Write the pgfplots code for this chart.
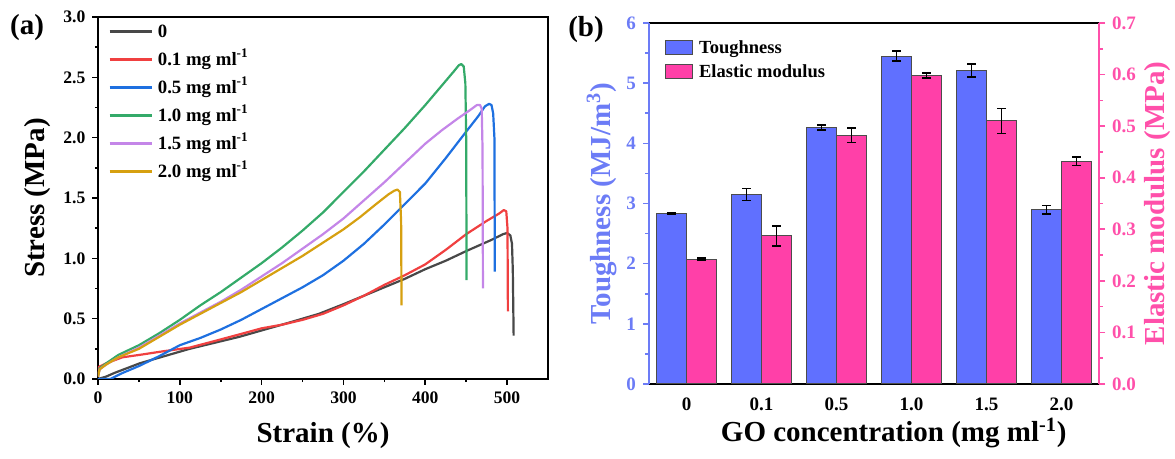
\documentclass[border=0pt]{standalone}
\usepackage{fontspec}
\setmainfont{Liberation Serif}
\usepackage{pgfplots}
\pgfplotsset{compat=1.18}

\definecolor{cZero}{RGB}{72,72,72}
\definecolor{cOne}{RGB}{240,64,64}
\definecolor{cFive}{RGB}{30,112,224}
\definecolor{cTen}{RGB}{52,170,105}
\definecolor{cFifteen}{RGB}{196,134,232}
\definecolor{cTwenty}{RGB}{214,160,16}
\definecolor{barBlue}{RGB}{96,112,255}
\definecolor{barPink}{RGB}{255,64,168}
\definecolor{axBlue}{RGB}{108,124,246}
\definecolor{axPink}{RGB}{255,80,170}

\newcommand{\labfont}{\fontsize{14.5}{16}\selectfont\bfseries}

\begin{document}
\begin{tikzpicture}
\path[use as bounding box] (0,0) rectangle (587.5pt,-229.5pt);
\node[font=\labfont] at (13.5pt,-14pt) {(a)};
\node[font=\labfont] at (293pt,-15pt) {(b)};

% (a) stress-strain
\begin{axis}[at={(49pt,-189.5pt)}, anchor=south west, scale only axis,
    width=225pt, height=181pt,
    xmin=0, xmax=550, ymin=0, ymax=3,
    xtick={0,100,...,500}, minor x tick num=1,
    ytick={0,0.5,...,3}, minor y tick num=1,
    xtick pos=bottom, ytick pos=left, tick align=outside,
    major tick length=2.8pt, minor tick length=1.6pt,
    axis line style={line width=0.9pt}, every tick/.style={black, line width=0.8pt},
    /pgf/number format/assume math mode=true,
    tick label style={font=\fontsize{8.8}{10}\selectfont\bfseries},
    yticklabel style={/pgf/number format/.cd, fixed, fixed zerofill, precision=1},
    xlabel={Strain (\%)}, ylabel={Stress (MPa)},
    label style={font=\labfont},
    xlabel style={at={(axis description cs:0.5,-0.155)}, anchor=center},
    ylabel style={at={(axis description cs:-0.134,0.5)}, anchor=center},
    legend style={at={(axis description cs:0.022,0.995)}, anchor=north west,
        draw=none, fill=none, font=\fontsize{9.4}{10}\selectfont\bfseries,
        row sep=2pt, inner sep=0pt,
        nodes={inner sep=0.5pt, text height=8.6pt, text depth=2.4pt},
        /tikz/every odd column/.append style={column sep=2pt}},
    legend cell align=left,
    legend image code/.code={\draw[#1, line width=1.3pt] (0pt,0pt) -- (21pt,0pt);},
    every axis plot/.append style={line width=1.1pt, line join=round}
]
\addplot[cZero] coordinates {(0,0) (10,0.02) (20,0.05) (51,0.13) (112,0.25) (173,0.35) (235,0.47) (270,0.54) (300,0.62) (325,0.69) (350,0.76) (375,0.83) (400,0.91) (425,0.98) (450,1.06) (480,1.15) (495,1.20) (500,1.21) (504,1.19) (506,1.12) (507,0.9) (508,0.36)};
\addlegendentry{0}
\addplot[cOne] coordinates {(0,0.02) (1,0.10) (10,0.13) (30,0.18) (51,0.20) (80,0.23) (112,0.26) (140,0.31) (173,0.37) (200,0.42) (225,0.45) (250,0.49) (275,0.54) (300,0.61) (325,0.69) (350,0.78) (375,0.86) (400,0.95) (425,1.07) (450,1.20) (475,1.31) (490,1.37) (496,1.40) (499,1.39) (500.5,1.25) (501,0.56)};
\addlegendentry{0.1 mg ml\textsuperscript{-1}}
\addplot[cFive] coordinates {(0,0) (15,0) (30,0.05) (51,0.11) (75,0.19) (100,0.28) (125,0.34) (150,0.41) (175,0.49) (200,0.58) (225,0.67) (250,0.76) (275,0.86) (300,0.98) (325,1.12) (350,1.28) (375,1.45) (400,1.62) (425,1.83) (450,2.05) (465,2.18) (473,2.26) (478,2.28) (481,2.27) (483,2.2) (484.5,2.0) (485,0.89)};
\addlegendentry{0.5 mg ml\textsuperscript{-1}}
\addplot[cTen] coordinates {(0,0.02) (2,0.09) (10,0.13) (25,0.20) (50,0.28) (75,0.38) (100,0.49) (125,0.61) (150,0.72) (175,0.84) (200,0.96) (225,1.09) (250,1.23) (275,1.38) (300,1.55) (325,1.72) (350,1.90) (375,2.08) (400,2.27) (420,2.43) (435,2.55) (441,2.60) (444,2.61) (447,2.59) (449,2.45) (450,2.0) (450.5,0.82)};
\addlegendentry{1.0 mg ml\textsuperscript{-1}}
\addplot[cFifteen] coordinates {(0,0.02) (2,0.08) (10,0.12) (25,0.18) (50,0.26) (75,0.36) (100,0.46) (125,0.55) (150,0.64) (175,0.74) (200,0.85) (225,0.96) (250,1.08) (275,1.20) (300,1.33) (325,1.48) (350,1.63) (375,1.79) (400,1.95) (420,2.06) (440,2.16) (455,2.23) (463,2.27) (467,2.27) (469,2.24) (470,1.9) (470.5,0.75)};
\addlegendentry{1.5 mg ml\textsuperscript{-1}}
\addplot[cTwenty] coordinates {(0,0.02) (2,0.08) (10,0.12) (25,0.18) (50,0.25) (75,0.35) (100,0.45) (125,0.54) (150,0.63) (175,0.72) (200,0.82) (225,0.92) (250,1.02) (275,1.13) (300,1.24) (320,1.34) (340,1.45) (355,1.53) (362,1.56) (366,1.57) (369,1.55) (370.5,1.3) (371,0.61)};
\addlegendentry{2.0 mg ml\textsuperscript{-1}}
\end{axis}

% (b) toughness, left axis
\begin{axis}[at={(324.5pt,-192pt)}, anchor=south west, scale only axis,
    width=225pt, height=180.5pt,
    xmin=-0.5, xmax=5.5, ymin=0, ymax=6,
    axis x line=box, axis y line*=left,
    xtick={0,...,5}, xticklabels={0,0.1,0.5,1.0,1.5,2.0},
    x tick style={draw=none},
    ytick={0,...,6}, minor y tick num=1,
    tick align=outside, major tick length=3pt, minor tick length=1.8pt,
    x axis line style={black, line width=0.9pt},
    y axis line style={axBlue, line width=0.9pt},
    y tick style={axBlue, line width=0.8pt},
    /pgf/number format/assume math mode=true,
    tick label style={font=\fontsize{9.5}{11}\selectfont\bfseries},
    xticklabel style={yshift=-0.5pt},
    yticklabel style={axBlue},
    xlabel={GO concentration (mg ml\textsuperscript{-1})},
    ylabel={Toughness (MJ/m\textsuperscript{3})},
    label style={font=\labfont},
    xlabel style={at={(axis description cs:0.544,-0.135)}, anchor=center},
    ylabel style={at={(axis description cs:-0.105,0.5)}, anchor=center, axBlue},
    ybar, bar width=0.4,
    legend style={at={(axis description cs:0.035,0.966)}, anchor=north west,
        draw=none, fill=none, font=\fontsize{9.25}{10}\selectfont\bfseries,
        row sep=0.2pt, inner sep=0pt,
        nodes={inner sep=0.5pt, text height=8.4pt, text depth=2.4pt},
        /tikz/every odd column/.append style={column sep=2.5pt}},
    legend cell align=left,
    legend image code/.code={\draw[#1] (0pt,-3.4pt) rectangle (13.5pt,3.4pt);}
]
\addplot[bar shift=-0.2, fill=barBlue, draw=black!70, line width=0.5pt,
    error bars/.cd, y dir=both, y explicit,
    error bar style={black, line width=0.8pt},
    error mark options={rotate=90, black, mark size=2.2pt, line width=0.8pt}]
    coordinates {(0,2.84) +- (0,0.01) (1,3.15) +- (0,0.10) (2,4.26) +- (0,0.04)
                 (3,5.45) +- (0,0.08) (4,5.21) +- (0,0.11) (5,2.90) +- (0,0.07)};
\addlegendentry{Toughness}
\addlegendimage{fill=barPink, draw=black!70, line width=0.5pt}
\addlegendentry{Elastic modulus}
\end{axis}

% (b) elastic modulus, right axis
\begin{axis}[at={(324.5pt,-192pt)}, anchor=south west, scale only axis,
    width=225pt, height=180.5pt,
    xmin=-0.5, xmax=5.5, ymin=0, ymax=0.7,
    axis x line=none, axis y line*=right,
    ytick={0,0.1,0.2,0.3,0.4,0.5,0.6,0.7}, minor y tick num=1,
    tick align=outside, major tick length=3pt, minor tick length=1.8pt,
    y axis line style={axPink, line width=0.9pt},
    y tick style={axPink, line width=0.8pt},
    /pgf/number format/assume math mode=true,
    tick label style={font=\fontsize{9.5}{11}\selectfont\bfseries},
    yticklabel style={axPink, /pgf/number format/.cd, fixed, fixed zerofill, precision=1},
    ylabel={Elastic modulus (MPa)},
    label style={font=\labfont},
    ylabel style={at={(axis description cs:1.13,0.5)}, anchor=center, rotate=0, axPink},
    ybar, bar width=0.4
]
\addplot[bar shift=0.2, fill=barPink, draw=black!70, line width=0.5pt,
    error bars/.cd, y dir=both, y explicit,
    error bar style={black, line width=0.8pt},
    error mark options={rotate=90, black, mark size=2.2pt, line width=0.8pt}]
    coordinates {(0,0.242) +- (0,0.002) (1,0.287) +- (0,0.019) (2,0.482) +- (0,0.014)
                 (3,0.598) +- (0,0.005) (4,0.510) +- (0,0.024) (5,0.432) +- (0,0.008)};
\end{axis}
\end{tikzpicture}
\end{document}
